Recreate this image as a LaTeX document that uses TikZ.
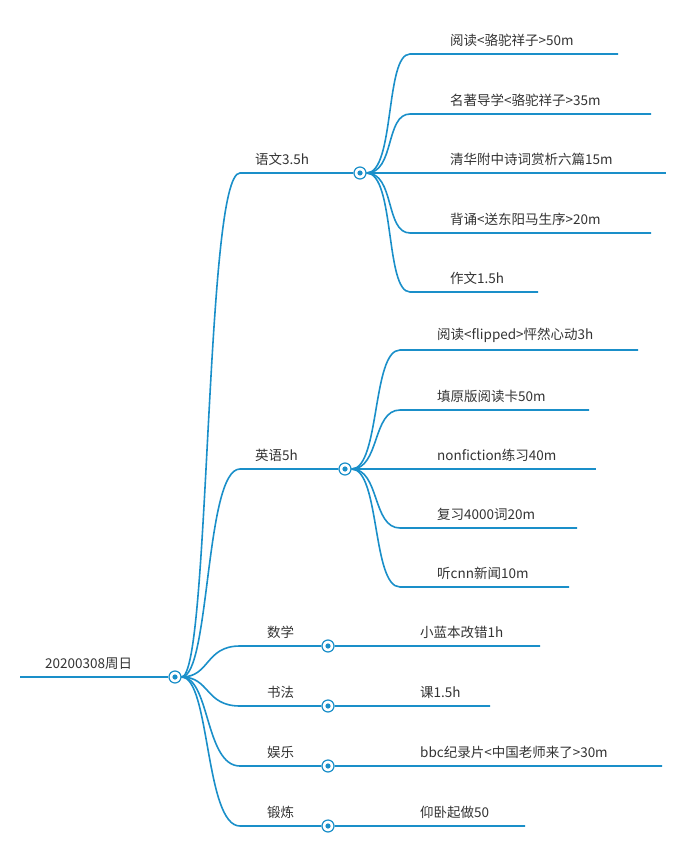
\documentclass[tikz,border=0pt]{standalone}
\usepackage{fontspec}
\setmainfont{Noto Sans CJK SC}
\definecolor{mapblue}{HTML}{1A8FC9}
\definecolor{mapgray}{HTML}{333333}
\tikzset{
  branch/.style={draw=mapblue, line width=1.6pt},
  label/.style={anchor=south west, inner sep=0pt, text=mapgray, font=\fontsize{13.5}{15}\selectfont},
  knot/.style={circle, draw=mapblue, fill=white, line width=1.2pt, minimum size=12pt, inner sep=0pt,
    path picture={\fill[mapblue] (path picture bounding box.center) circle (2.6pt);}}
}
\begin{document}
\begin{tikzpicture}[x=1pt,y=-1pt]
    \useasboundingbox (0,0) rectangle (699,845);
    % Root
    \coordinate (rootend) at (20,677);
    \node[knot] (root) at (175,677) {};
    \draw[branch] (rootend) -- (root);
    \node[label] (roottext) at (45,670) {20200308周日};

    % Chinese
    \coordinate (yw) at (240,173);
    \node[knot] (ywk) at (360,173) {};
    \draw[branch] (root.east) .. controls (210,677) and (205,173) .. (yw) -- (ywk);
    \node[label] (ywtext) at (255,166) {语文3.5h};
    \foreach \y/\e/\t [count=\i] in {54/618/阅读<骆驼祥子>50m, 114/651/名著导学<骆驼祥子>35m,
        173/666/清华附中诗词赏析六篇15m, 233/651/背诵<送东阳马生序>20m, 292/538/作文1.5h} {
        \coordinate (yw\i) at (410,\y);
        \coordinate (yw\i e) at (\e,\y);
        \draw[branch] (ywk.east) .. controls (395,173) and (385,\y) .. (yw\i) -- (yw\i e);
        \node[label] (yw\i text) at (450,\y-7) {\t};
    }

    % English
    \coordinate (yy) at (240,469);
    \node[knot] (yyk) at (345,469) {};
    \draw[branch] (root.east) .. controls (210,677) and (205,469) .. (yy) -- (yyk);
    \node[label] (yytext) at (255,462) {英语5h};
    \foreach \y/\e/\t [count=\i] in {350/638/阅读<flipped>怦然心动3h, 410/589/填原版阅读卡50m,
        469/596/nonfiction练习40m, 528/577/复习4000词20m, 587/569/听cnn新闻10m} {
        \coordinate (yy\i) at (400,\y);
        \coordinate (yy\i e) at (\e,\y);
        \draw[branch] (yyk.east) .. controls (380,469) and (372,\y) .. (yy\i) -- (yy\i e);
        \node[label] (yy\i text) at (437,\y-7) {\t};
    }

    % Short branches
    \foreach \y/\e/\s/\t [count=\i] in {646/540/数学/小蓝本改错1h, 706/490/书法/课1.5h,
        766/662/娱乐/bbc纪录片<中国老师来了>30m, 826/525/锻炼/仰卧起做50} {
        \coordinate (sb\i) at (240,\y);
        \node[knot] (sb\i k) at (328,\y) {};
        \coordinate (sb\i e) at (\e,\y);
        \draw[branch] (root.east) .. controls (210,677) and (205,\y) .. (sb\i) -- (sb\i k) -- (sb\i e);
        \node[label] (sb\i s) at (267,\y-7) {\s};
        \node[label] (sb\i t) at (420,\y-7) {\t};
    }
\end{tikzpicture}
\end{document}
